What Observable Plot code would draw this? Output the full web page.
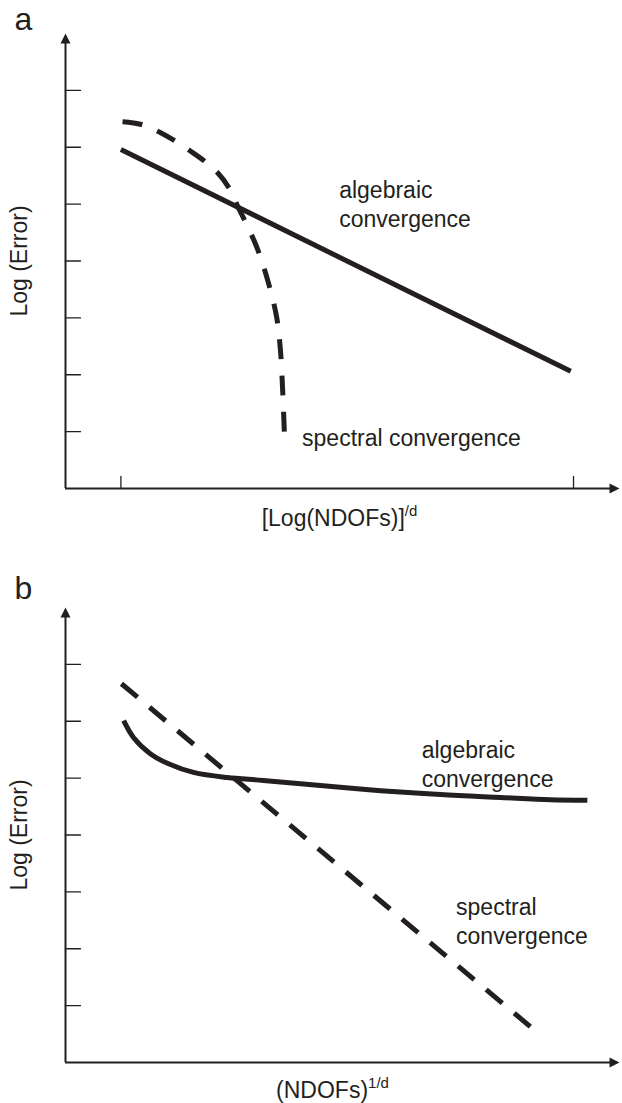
<!DOCTYPE html>
<html>
<head>
<meta charset="utf-8">
<script src="https://cdn.jsdelivr.net/npm/d3@7"></script>
<script src="https://cdn.jsdelivr.net/npm/@observablehq/plot@0.6"></script>
<style>
  html, body { margin: 0; padding: 0; background: #fff; }
  #chart { width: 622px; }
  #chart svg { display: block; }
</style>
</head>
<body>
<div id="chart"></div>
<script>
// Schematic convergence curves: log(error) against problem size.

// Tick positions (axis units)
const yTicks = [1, 2, 3, 4, 5, 6, 7];
const xTicksA = [1.0, 9.17];

// Panel (a): x = [Log(NDOFs)]^(1/d)
const algebraicAx = [1.0, 9.12];
const algebraicAy = [5.96, 2.06];
const spectralAx = [1.03, 1.37, 1.71, 2.26, 2.71, 2.98, 3.10, 3.25, 3.45, 3.65, 3.81, 3.88, 3.92, 3.95];
const spectralAy = [6.45, 6.40, 6.26, 5.93, 5.59, 5.24, 4.98, 4.68, 4.25, 3.66, 3.02, 2.43, 1.72, 1.00];

// Panel (b): x = (NDOFs)^(1/d)
const algebraicBx = [1.05, 1.23, 1.53, 1.84, 2.31, 2.92, 3.57, 4.60, 5.69, 6.77, 7.85, 8.75, 9.42];
const algebraicBy = [6.01, 5.71, 5.43, 5.26, 5.10, 5.01, 4.96, 4.87, 4.78, 4.71, 4.66, 4.62, 4.61];
const spectralBx = [1.01, 8.39];
const spectralBy = [6.66, 0.63];

// Text
const panelLetters = ["a", "b"];
const yLabel = "Log (Error)";
const xLabelA = ["[Log(NDOFs)]", "/d"];
const xLabelB = ["(NDOFs)", "1/d"];
const algebraicLabel = "algebraic\nconvergence";
const spectralLabelA = "spectral convergence";
const spectralLabelB = "spectral\nconvergence";

const INK = "#231f20";
const FONT = "'Liberation Sans', Arial, Helvetica, sans-serif";

const pts = (xs, ys) => xs.map((x, i) => ({x, y: ys[i]}));

// Tick stroke pointing along the vector direction
const tickShape = {draw(ctx, l) { ctx.moveTo(0, 0); ctx.lineTo(0, -l); }};
// Filled arrow head whose tip sits on the anchor point
const arrowHead = {draw(ctx, l) { ctx.moveTo(0, -l); ctx.lineTo(-5, 0); ctx.lineTo(5, 0); ctx.closePath(); }};

function axesMarks(xTicks) {
  const marks = [
    Plot.ruleX([0], {x: 0, y1: 0, y2: 7.9, stroke: INK, strokeWidth: 2}),
    Plot.ruleY([0], {y: 0, x1: 0, x2: 9.9, stroke: INK, strokeWidth: 2}),
    Plot.vector([0], {x: 0, y: 8, length: 10, anchor: "end", shape: arrowHead, fill: INK, stroke: "none"}),
    Plot.vector([0], {x: 10, y: 0, length: 10, rotate: 90, anchor: "end", shape: arrowHead, fill: INK, stroke: "none"}),
    Plot.vector(yTicks, {x: 0, y: d => d, length: 15, rotate: 90, anchor: "start", shape: tickShape, stroke: INK, strokeWidth: 1.3})
  ];
  if (xTicks.length) {
    marks.push(Plot.vector(xTicks, {x: d => d, y: 0, length: 12, rotate: 0, anchor: "start", shape: tickShape, stroke: INK, strokeWidth: 1.3}));
  }
  return marks;
}

function labelMarks(letter, letterDy, xLabel, xDx, xDy) {
  return [
    Plot.text([letter], {frameAnchor: "top-left", dx: -51, dy: letterDy, textAnchor: "start", lineAnchor: "bottom", fontSize: 32, fill: INK}),
    Plot.text([yLabel], {frameAnchor: "left", rotate: -90, dx: -39, textAnchor: "middle", lineAnchor: "bottom", fontSize: 23, fill: INK}),
    Plot.text([xLabel[0]], {frameAnchor: "bottom", dx: xDx, dy: xDy, textAnchor: "middle", lineAnchor: "bottom", fontSize: 23, fill: INK})
  ];
}

// Superscript appended to the x-axis title
function addSuperscript(svg, xLabel) {
  d3.select(svg).selectAll("text")
    .filter(function () { return this.textContent === xLabel[0]; })
    .append("tspan")
    .attr("dy", -10)
    .attr("font-size", 15)
    .text(xLabel[1]);
}

// Stretch the gaps of a dashed path so it starts and ends on a full dash
function fitDashes(svg, dash) {
  d3.select(svg).selectAll("path").each(function () {
    const pattern = (this.parentNode.getAttribute("stroke-dasharray") || this.getAttribute("stroke-dasharray"));
    if (!pattern) return;
    const [d, g] = pattern.split(",").map(Number);
    const L = this.getTotalLength();
    const n = Math.max(2, Math.round((L + g) / (d + g)));
    const gap = (L - n * d) / (n - 1);
    this.setAttribute("stroke-dasharray", `${d},${gap.toFixed(2)}`);
  });
}

function panel({height, marginBottom, marks}) {
  return Plot.plot({
    width: 622,
    height,
    marginLeft: 65,
    marginRight: 3,
    marginTop: 33,
    marginBottom,
    x: {domain: [0, 10], axis: null},
    y: {domain: [0, 8], axis: null},
    style: {background: "#fff", color: INK, fontFamily: FONT, overflow: "visible"},
    marks
  });
}

const svgA = panel({
  height: 574,
  marginBottom: 86,
  marks: [
    ...axesMarks(xTicksA),
    Plot.line(pts(algebraicAx, algebraicAy), {x: "x", y: "y", stroke: INK, strokeWidth: 5, strokeLinecap: "butt"}),
    Plot.line(pts(spectralAx, spectralAy), {x: "x", y: "y", curve: "catmull-rom", stroke: INK, strokeWidth: 5, strokeDasharray: "20,15", strokeLinecap: "butt"}),
    Plot.text([algebraicLabel], {x: 4.94, y: 4.59, textAnchor: "start", lineAnchor: "bottom", lineHeight: 1.26, fontSize: 23, fill: INK}),
    Plot.text([spectralLabelA], {x: 4.27, y: 0.74, textAnchor: "start", lineAnchor: "bottom", fontSize: 23, fill: INK}),
    ...labelMarks(panelLetters[0], -4, xLabelA, -3, 37)
  ]
});
addSuperscript(svgA, xLabelA);

const svgB = panel({
  height: 529,
  marginBottom: 41,
  marks: [
    ...axesMarks([]),
    Plot.line(pts(algebraicBx, algebraicBy), {x: "x", y: "y", curve: "catmull-rom", stroke: INK, strokeWidth: 5, strokeLinecap: "butt"}),
    Plot.line(pts(spectralBx, spectralBy), {x: "x", y: "y", stroke: INK, strokeWidth: 5, strokeDasharray: "21,16", strokeLinecap: "butt"}),
    Plot.text([algebraicLabel], {x: 6.43, y: 4.85, textAnchor: "start", lineAnchor: "bottom", lineHeight: 1.26, fontSize: 23, fill: INK}),
    Plot.text([spectralLabelB], {x: 7.05, y: 2.08, textAnchor: "start", lineAnchor: "bottom", lineHeight: 1.26, fontSize: 23, fill: INK}),
    ...labelMarks(panelLetters[1], -9, xLabelB, -10, 35)
  ]
});
addSuperscript(svgB, xLabelB);

const chart = document.getElementById("chart");
chart.appendChild(svgA);
chart.appendChild(svgB);

// Path lengths are only available once the SVGs are in the document
fitDashes(svgA);
fitDashes(svgB);
</script>
</body>
</html>
